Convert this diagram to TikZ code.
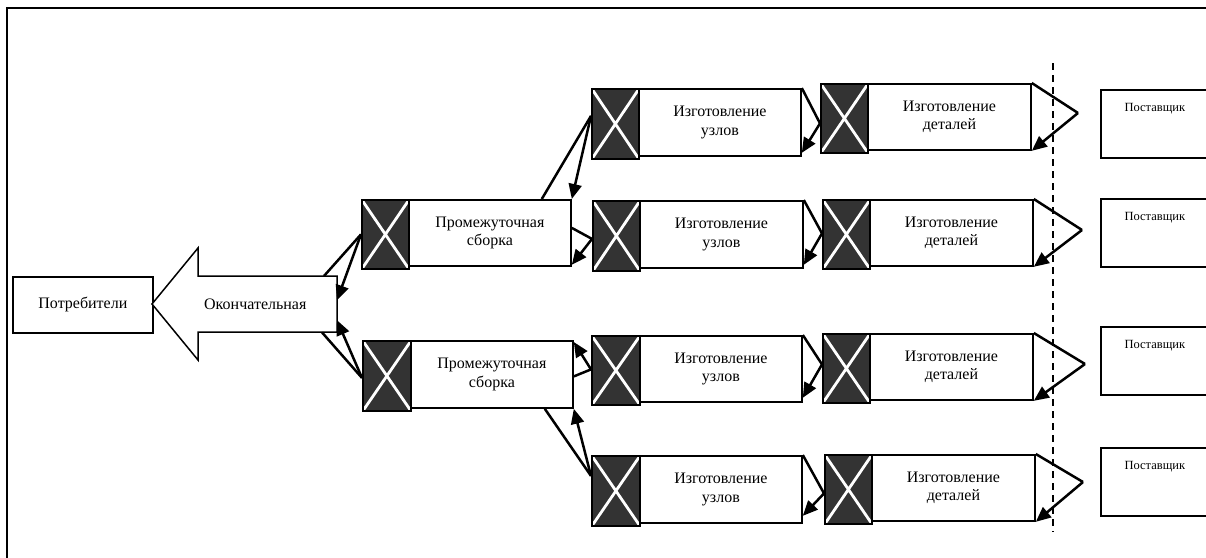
\documentclass[tikz,border=0pt]{standalone}
\usepackage{fontspec}
\setmainfont{Liberation Serif}
\usetikzlibrary{arrows.meta,calc}
\definecolor{xdark}{HTML}{333333}
\tikzset{
 pbox/.style={draw, line width=1.8pt, fill=white, inner sep=0pt, align=center, font=\fontsize{16}{18.5}\selectfont},
 xbox/.style={draw, line width=1.8pt, fill=xdark, inner sep=0pt,
   path picture={\draw[white, line width=2.8pt]
     (path picture bounding box.north west) -- (path picture bounding box.south east)
     (path picture bounding box.south west) -- (path picture bounding box.north east);}},
 sbox/.style={draw, line width=1.8pt, fill=white, inner sep=0pt, font=\fontsize{12.5}{14}\selectfont},
 bigarrow/.style={draw, line width=1.5pt, fill=white},
 link/.style={line width=2.5pt},
 back/.style={line width=2.5pt, -{Triangle[length=15pt,width=13pt]}},
 frame/.style={line width=2.2pt},
 cut/.style={line width=2.2pt, dash pattern=on 7pt off 5pt},
}
% #1 name, #2 x left, #3 x split, #4 x right, #5 y top, #6 y bottom, #7 text
\newcommand\procpair[7]{%
 \node[xbox, anchor=north west, minimum width={(#3-#2)*1pt}, minimum height={(#6-#5+3)*1pt}] (#1x) at (#2,#5) {};
 \node[pbox, anchor=north west, minimum width={(#4-#3)*1pt}, minimum height={(#6-#5)*1pt}] (#1m) at (#3,#5) {#7};
}
\newcommand\supplier[2]{%
 \node[sbox, anchor=north west, minimum width=108pt, minimum height=68pt] (#1) at (1100,#2)
   {\parbox[c][42pt][t]{100pt}{\centering Поставщик}};
}
\begin{document}
\begin{tikzpicture}[x=1pt,y=-1pt]
\useasboundingbox (0,0) rectangle (1206,557);
\clip (0,0) rectangle (1206,557);
% frame
\draw[frame] (7,562) -- (7,8) -- (1212,8);
% consumers and final assembly
\node[pbox, anchor=north west, minimum width=140pt, minimum height=56pt] (cons) at (12,276) {Потребители};
\draw[bigarrow] (152,304) -- (198,248) -- (198,276) -- (337,276) -- (337,332) -- (198,332) -- (198,360) -- cycle;
\node[inner sep=0pt, font=\fontsize{16}{18.5}\selectfont, minimum width=163pt, minimum height=56pt, anchor=north east] (fin) at (337,276) {Окончательная};
% intermediate assembly
\procpair{pa}{361}{408}{570}{199}{265}{Промежуточная\\сборка}
\procpair{pb}{362}{410}{572}{340}{407}{Промежуточная\\сборка}
% units
\procpair{ua}{591}{638}{800}{88}{155}{Изготовление\\узлов}
\procpair{ub}{592}{639}{802}{200}{267}{Изготовление\\узлов}
\procpair{uc}{591}{639}{801}{335}{401}{Изготовление\\узлов}
\procpair{ud}{591}{639}{801}{455}{522}{Изготовление\\узлов}
% parts
\procpair{da}{820}{867}{1030}{83}{149}{Изготовление\\деталей}
\procpair{db}{822}{869}{1032}{199}{265}{Изготовление\\деталей}
\procpair{dc}{822}{869}{1032}{333}{399}{Изготовление\\деталей}
\procpair{dd}{824}{871}{1034}{454}{520}{Изготовление\\деталей}
% suppliers
\supplier{sa}{89}
\supplier{sb}{198}
\supplier{sc}{326}
\supplier{sd}{447}
% boundary
\coordinate (cuttop) at (1053,63);
\coordinate (cutbot) at (1053,532);
\draw[cut] (cuttop) -- (cutbot);
% connectors: final assembly
\draw[link] (pax.west) -- ($(fin.north east)+(-13,0)$);
\draw[back] (pax.west) -- ($(fin.east)+(0,-4)$);
\draw[link] ($(pbx.west)+(0,2)$) -- ($(fin.south east)+(-15,0)$);
\draw[back] ($(pbx.west)+(0,2)$) -- ($(fin.east)+(0,16)$);
% connectors: intermediate <- units
\draw[link] ($(uax.west)+(0,-8)$) -- ($(pam.north east)+(-30,0)$);
\draw[back] ($(uax.west)+(0,-8)$) -- (pam.north east);
\draw[link] ($(ubx.west)+(0,3)$) -- ($(pam.east)+(0,-5)$);
\draw[back] ($(ubx.west)+(0,3)$) -- ($(pam.south east)+(0,-2)$);
\draw[link] ($(ucx.west)+(0,-1)$) -- ($(pbm.east)+(0,2)$);
\draw[back] ($(ucx.west)+(0,-1)$) -- ($(pbm.north east)+(0,2)$);
\draw[link] ($(udx.west)+(0,-15)$) -- ($(pbm.south east)+(-29,0)$);
\draw[back] ($(udx.west)+(0,-15)$) -- (pbm.south east);
% connectors: units <- parts
\draw[link] ($(dax.west)+(0,5)$) -- (uam.north east);
\draw[back] ($(dax.west)+(0,5)$) -- ($(uam.south east)+(0,-4)$);
\draw[link] ($(dbx.west)+(0,-1)$) -- (ubm.north east);
\draw[back] ($(dbx.west)+(0,-1)$) -- ($(ubm.south east)+(0,-4)$);
\draw[link] ($(dcx.west)+(0,-4)$) -- (ucm.north east);
\draw[back] ($(dcx.west)+(0,-4)$) -- ($(ucm.south east)+(0,-5)$);
\draw[link] ($(ddx.west)+(0,4)$) -- (udm.north east);
\draw[back] ($(ddx.west)+(0,4)$) -- ($(udm.south east)+(0,-8)$);
% connectors: parts <- suppliers
\coordinate (qa) at (1078,113);
\coordinate (qb) at (1082,230);
\coordinate (qc) at (1085,364);
\coordinate (qd) at (1083,482);
\draw[link] (qa) -- (dam.north east);
\draw[back] (qa) -- (dam.south east);
\draw[link] (qb) -- (dbm.north east);
\draw[back] (qb) -- (dbm.south east);
\draw[link] (qc) -- (dcm.north east);
\draw[back] (qc) -- (dcm.south east);
\draw[link] (qd) -- (ddm.north east);
\draw[back] (qd) -- (ddm.south east);
\end{tikzpicture}
\end{document}
